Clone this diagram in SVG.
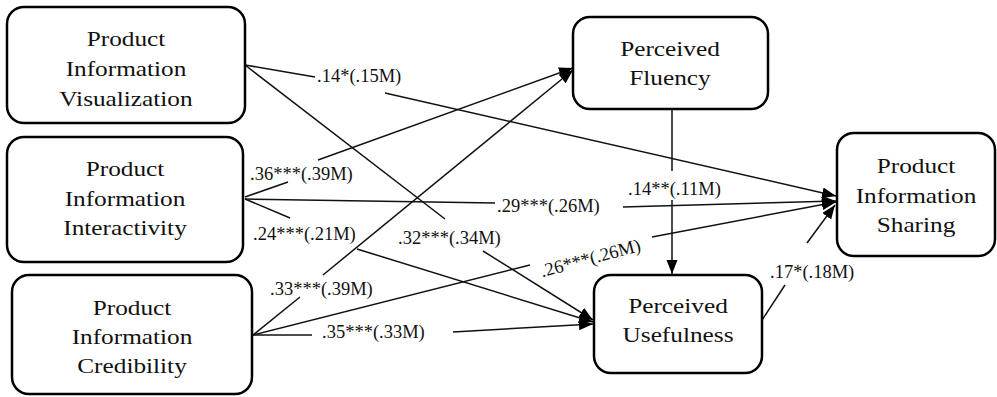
<svg xmlns="http://www.w3.org/2000/svg" width="997" height="397" viewBox="0 0 997 397">
  <style>
    .box { fill: #ffffff; stroke: #000000; stroke-width: 2.5; }
    .node-text { font-family: "Liberation Serif", "Times New Roman", serif; font-size: 22px; fill: #111111; text-anchor: middle; }
    .edge { fill: none; stroke: #111111; stroke-width: 1.5; }
    .label { font-family: "Liberation Serif", "Times New Roman", serif; font-size: 18.5px; fill: #111111; }
  </style>
  <defs>
    <marker id="arrow" markerUnits="userSpaceOnUse" markerWidth="16" markerHeight="12" refX="14" refY="5.5" orient="auto">
      <path d="M0,0 L14,5.5 L0,11 z" fill="#000000"/>
    </marker>
  </defs>
  <rect width="997" height="397" fill="#ffffff"/>

  <!-- path coefficients, each line broken around its label -->
  <g id="connectors">
    <!-- Visualization -> Sharing -->
    <line class="edge" x1="245" y1="65" x2="315" y2="77"/>
    <line class="edge" x1="385" y1="93" x2="836" y2="196" marker-end="url(#arrow)"/>
    <!-- Visualization -> Usefulness -->
    <line class="edge" x1="245" y1="65" x2="445" y2="219"/>
    <line class="edge" x1="483" y1="251" x2="593" y2="320" marker-end="url(#arrow)"/>
    <!-- Interactivity -> Fluency -->
    <line class="edge" x1="245" y1="197" x2="288" y2="182"/>
    <line class="edge" x1="318" y1="160" x2="573" y2="68" marker-end="url(#arrow)"/>
    <!-- Interactivity -> Sharing -->
    <line class="edge" x1="245" y1="199" x2="495" y2="203"/>
    <line class="edge" x1="623" y1="207" x2="836" y2="201" marker-end="url(#arrow)"/>
    <!-- Interactivity -> Usefulness -->
    <line class="edge" x1="245" y1="199" x2="290" y2="218"/>
    <line class="edge" x1="357" y1="249" x2="593" y2="322" marker-end="url(#arrow)"/>
    <!-- Credibility -> Fluency -->
    <line class="edge" x1="253" y1="335" x2="300" y2="297"/>
    <line class="edge" x1="323" y1="275" x2="573" y2="70" marker-end="url(#arrow)"/>
    <!-- Credibility -> Sharing -->
    <line class="edge" x1="253" y1="335" x2="530" y2="265"/>
    <line class="edge" x1="652" y1="237" x2="836" y2="202" marker-end="url(#arrow)"/>
    <!-- Credibility -> Usefulness -->
    <line class="edge" x1="253" y1="335" x2="312" y2="335"/>
    <line class="edge" x1="453" y1="332" x2="593" y2="324" marker-end="url(#arrow)"/>
    <!-- Fluency -> Usefulness -->
    <line class="edge" x1="672" y1="109" x2="672" y2="171"/>
    <line class="edge" x1="672" y1="200" x2="672" y2="274" marker-end="url(#arrow)"/>
    <!-- Usefulness -> Sharing -->
    <line class="edge" x1="762" y1="320" x2="785" y2="285"/>
    <line class="edge" x1="807" y1="243" x2="835" y2="205" marker-end="url(#arrow)"/>

    <text class="label" x="317" y="82">.14*(.15M)</text>
    <text class="label" x="250" y="180">.36***(.39M)</text>
    <text class="label" x="253" y="240">.24***(.21M)</text>
    <text class="label" x="398" y="244">.32***(.34M)</text>
    <text class="label" x="270" y="295">.33***(.39M)</text>
    <text class="label" x="322" y="338">.35***(.33M)</text>
    <text class="label" x="497" y="212">.29***(.26M)</text>
    <text class="label" x="628" y="195">.14**(.11M)</text>
    <text class="label" text-anchor="middle" transform="translate(592,264) rotate(-15)">.26***(.26M)</text>
    <text class="label" x="770" y="278">.17*(.18M)</text>
  </g>

  <g id="visualization">
    <rect class="box" x="7" y="7" width="238" height="116" rx="17"/>
    <text class="node-text" transform="translate(126,46) scale(1.15,1)">Product</text>
    <text class="node-text" transform="translate(126,76) scale(1.15,1)">Information</text>
    <text class="node-text" transform="translate(126,106) scale(1.15,1)">Visualization</text>
  </g>

  <g id="interactivity">
    <rect class="box" x="7" y="137" width="236" height="125" rx="17"/>
    <text class="node-text" transform="translate(125,176) scale(1.15,1)">Product</text>
    <text class="node-text" transform="translate(125,206) scale(1.15,1)">Information</text>
    <text class="node-text" transform="translate(125,235) scale(1.15,1)">Interactivity</text>
  </g>

  <g id="credibility">
    <rect class="box" x="12" y="275" width="240" height="119" rx="17"/>
    <text class="node-text" transform="translate(132,315) scale(1.15,1)">Product</text>
    <text class="node-text" transform="translate(132,344) scale(1.15,1)">Information</text>
    <text class="node-text" transform="translate(132,373) scale(1.15,1)">Credibility</text>
  </g>

  <g id="fluency">
    <rect class="box" x="573" y="17" width="195" height="92" rx="17"/>
    <text class="node-text" transform="translate(670,56) scale(1.15,1)">Perceived</text>
    <text class="node-text" transform="translate(670,85) scale(1.15,1)">Fluency</text>
  </g>

  <g id="sharing">
    <rect class="box" x="837" y="133" width="158" height="123" rx="17"/>
    <text class="node-text" transform="translate(916,173) scale(1.15,1)">Product</text>
    <text class="node-text" transform="translate(916,203) scale(1.15,1)">Information</text>
    <text class="node-text" transform="translate(916,232) scale(1.15,1)">Sharing</text>
  </g>

  <g id="usefulness">
    <rect class="box" x="594" y="275" width="168" height="98" rx="17"/>
    <text class="node-text" transform="translate(678,313) scale(1.15,1)">Perceived</text>
    <text class="node-text" transform="translate(678,342) scale(1.15,1)">Usefulness</text>
  </g>
</svg>
